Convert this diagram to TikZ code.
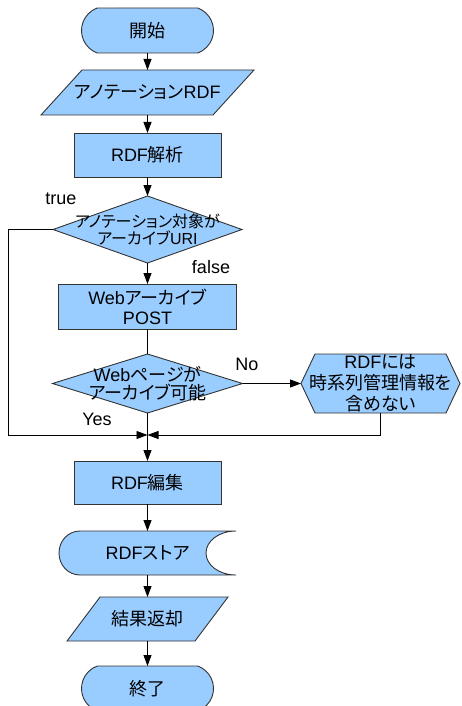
\documentclass[tikz,border=0pt]{standalone}
\usepackage{fontspec}
\setmainfont{Liberation Sans}
\newfontfamily\jp[RawFeature=+palt]{Noto Sans CJK JP}
\usetikzlibrary{arrows.meta,calc,backgrounds,shapes.misc}
\definecolor{fillblue}{HTML}{99CCFF}
\definecolor{edgegray}{HTML}{333333}
\begin{document}
\begin{tikzpicture}[x=1pt,y=-1pt,
  every node/.style={inner sep=0pt, outer sep=0pt, align=center, text=black,
    font=\fontsize{18}{20}\selectfont},
  shp/.style={fill=fillblue, draw=edgegray, line width=0.9pt},
  arr/.style={-{Triangle[length=11pt,width=8pt]}, line width=0.9pt, draw=black},
  ln/.style={line width=0.9pt, draw=black},
  term/.style={shp, rounded rectangle, rounded rectangle arc length=140,
    minimum width=132pt, minimum height=45pt}
]
\useasboundingbox (0,0) rectangle (461,706);

% nodes
\node[term] (start) at (147.5,30.5) {\jp 開始};
\node[minimum width=213pt, minimum height=45pt] (in) at (147.5,92.5) {{\jp アノテーション}RDF};
\node[shp, minimum width=147pt, minimum height=44pt] (rdf) at (147.5,155) {RDF{\jp 解析}};
\node[minimum width=189pt, minimum height=67pt, font=\fontsize{16}{16.5}\selectfont] (d1) at (147.5,229.5)
  {{\jp アノテーション対象が}\\{\jp アーカイブ}URI};
\node[shp, minimum width=178pt, minimum height=45pt, font=\fontsize{18}{20}\selectfont] (web) at (147.5,306.5)
  {Web{\jp アーカイブ}\\POST};
\node[minimum width=190pt, minimum height=59pt, font=\fontsize{18}{18}\selectfont] (d2) at (147.5,383.5)
  {Web{\jp ページが}\\{\jp アーカイブ可能}};
\node[minimum width=159pt, minimum height=59pt, font=\fontsize{18}{21}\selectfont] (hex) at (380.5,383.5)
  {RDF{\jp には}\\{\jp 時系列管理情報を}\\{\jp 含めない}};
\coordinate (merge) at (147.5,435);
\coordinate (lft) at (8,435);
\node[shp, minimum width=147pt, minimum height=43pt] (edit) at (147.5,482.5) {RDF{\jp 編集}};
\node[minimum width=177pt, minimum height=44pt] (store) at (147.5,553) {RDF{\jp ストア}};
\node[minimum width=161pt, minimum height=44pt] (out) at (147.5,619) {\jp 結果返却};
\node[term] (end) at (147.5,688.5) {\jp 終了};

% labels
\node (ltrue) at (61,199) {true};
\node (lfalse) at (211,267) {false};
\node (lno) at (247,364) {No};
\node (lyes) at (97,419) {Yes};

% shapes behind text
\begin{scope}[on background layer]
\path[shp] let \p1=(in.north west), \p2=(in.south east) in
  (\x1,\y2) -- (\x1+41pt,\y1) -- (\x2,\y1) -- (\x2-41pt,\y2) -- cycle;
\path[shp] (d1.north) -- (d1.east) -- (d1.south) -- (d1.west) -- cycle;
\path[shp] (d2.north) -- (d2.east) -- (d2.south) -- (d2.west) -- cycle;
\path[shp] let \p1=(hex.north west), \p2=(hex.south east) in
  (hex.west) -- (\x1+14pt,\y1) -- (\x2-14pt,\y1) -- (hex.east) -- (\x2-14pt,\y2) -- (\x1+14pt,\y2) -- cycle;
\path[shp] let \p1=(store.north west), \p2=(store.south east), \p3=(store.center) in
  (\x1+21pt,\y1) -- (\x2,\y1)
  .. controls (\x2-17pt,\y1) and (\x2-30pt,\y3+12pt) .. (\x2-30pt,\y3)
  .. controls (\x2-30pt,\y3-12pt) and (\x2-17pt,\y2) .. (\x2,\y2)
  -- (\x1+21pt,\y2)
  .. controls (\x1+9pt,\y2) and (\x1,\y3-12pt) .. (\x1,\y3)
  .. controls (\x1,\y3+12pt) and (\x1+9pt,\y1) .. (\x1+21pt,\y1) -- cycle;
\path[shp] let \p1=(out.north west), \p2=(out.south east) in
  (\x1,\y2) -- (\x1+33pt,\y1) -- (\x2,\y1) -- (\x2-33pt,\y2) -- cycle;
\end{scope}

% connectors
\draw[arr] (start.south) -- (in.north);
\draw[arr] (in.south) -- (rdf.north);
\draw[arr] (rdf.south) -- (d1.north);
\draw[arr] (d1.south) -- (web.north);
\draw[ln] (web.south) -- (d2.north);
\draw[arr] (d2.east) -- (hex.west);
\draw[arr] (d1.west) -| (lft) -- (merge);
\draw[arr] (hex.south) |- (merge);
\draw[ln] (d2.south) -- (merge);
\draw[arr] (merge) -- (edit.north);
\draw[arr] (edit.south) -- (store.north);
\draw[arr] (store.south) -- (out.north);
\draw[arr] (out.south) -- (end.north);
\end{tikzpicture}
\end{document}
